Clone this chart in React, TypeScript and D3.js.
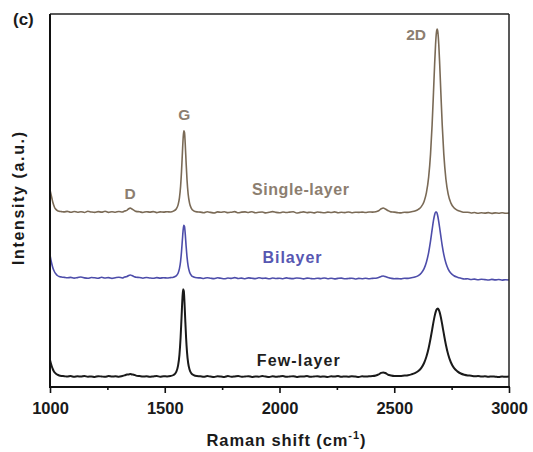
import React, { useEffect, useRef } from 'react';
import * as d3 from 'd3';

// Raman shift grid (cm^-1)
const shifts = [
  1000, 1004, 1008, 1012, 1016, 1020, 1026, 1032, 1040, 1050, 1062, 1075,
  1090, 1105, 1120, 1135, 1150, 1165, 1180, 1195, 1210, 1225, 1240, 1255, 1270, 1285, 1300, 1315,
  1325, 1335, 1343, 1350, 1357, 1365, 1375, 1390,
  1405, 1420, 1435, 1450, 1465, 1480, 1495, 1510, 1525,
  1538, 1550, 1558, 1564, 1569, 1573, 1577, 1580, 1583, 1586, 1589, 1593, 1597, 1602, 1608, 1616, 1626, 1640,
  1655, 1670, 1685, 1700, 1715, 1730, 1745, 1760, 1775, 1790,
  1805, 1820, 1835, 1850, 1865, 1880, 1895, 1910, 1925, 1940,
  1955, 1970, 1985, 2000, 2015, 2030, 2045, 2060, 2075, 2090,
  2105, 2120, 2135, 2150, 2165, 2180, 2195, 2210, 2225, 2240,
  2255, 2270, 2285, 2300, 2315, 2330, 2345, 2360, 2375, 2390,
  2405, 2420, 2432, 2443, 2452, 2461, 2472, 2485, 2500,
  2515, 2530, 2545, 2560, 2575,
  2590, 2605, 2618, 2630, 2640, 2650, 2658, 2665, 2671, 2676, 2680, 2684,
  2687, 2690, 2694, 2698, 2703, 2709, 2716, 2725, 2735, 2747, 2760, 2775,
  2790, 2805, 2820, 2835, 2850, 2865, 2880, 2895, 2910, 2925, 2940, 2955, 2970, 2985, 3000,
];

// Single-layer intensity (a.u., offset)
const singleLayer = [
  197, 193, 189, 185, 182, 179.5, 177.6, 176.4, 175.7, 175.4, 175.1, 175.6,
  174.7, 175.5, 174.8, 175.3, 174.5, 175.7, 175.0, 174.6, 175.4, 174.9, 175.8, 174.6, 175.2, 174.8, 175.5, 175.0,
  175.9, 176.6, 178.3, 178.9, 178.0, 176.9, 175.6, 175.2,
  174.5, 175.3, 174.9, 175.4, 174.4, 175.1, 174.9, 175.3, 175.0,
  175.9, 178.0, 182.1, 189.1, 200.6, 215.4, 234.6, 248.3, 256.1, 254.5, 244.2, 224.7, 207.3, 192.9, 183.9, 178.7, 176.2, 175.1,
  174.9, 174.3, 175.2, 174.6, 174.0, 175.1, 174.7, 175.3, 174.4, 174.8,
  175.4, 174.2, 174.9, 175.1, 174.5, 175.3, 174.3, 174.8, 175.0, 174.1,
  174.7, 175.4, 174.6, 174.2, 175.0, 174.5, 174.9, 175.2, 174.0, 174.6,
  175.1, 174.4, 174.8, 174.1, 175.0, 174.6, 174.3, 174.9, 174.5, 175.1,
  174.2, 174.7, 174.4, 175.0, 174.3, 174.8, 174.6, 174.9, 174.5, 175.0,
  174.9, 175.3, 176.3, 178.2, 179.0, 178.0, 176.5, 175.1, 174.9,
  174.4, 174.1, 174.7, 174.6, 175.3,
  176.0, 177.6, 180.4, 185.6, 194.1, 210.1, 232.6, 262.2, 294.7, 323.0, 342.5, 355.0,
  358.0, 355.0, 342.5, 323.0, 294.7, 262.2, 232.6, 208.0, 192.9, 183.9, 179.2, 176.7,
  175.5, 174.7, 174.8, 174.0, 174.5, 173.7, 174.2, 173.9, 174.4, 173.6, 174.1, 173.8, 174.3, 173.7, 174.0,
];

// Bilayer intensity
const bilayer = [
  132, 127, 123, 119.5, 117, 115, 113, 111.5, 110.5, 110.0, 109.6, 109.2,
  109.6, 108.9, 109.4, 110.0, 109.1, 108.7, 109.5, 109.2, 108.8, 109.7, 109.0, 109.4, 108.6, 109.3, 109.8, 109.0,
  109.9, 110.4, 111.6, 112.0, 111.4, 110.6, 109.7, 109.5,
  108.8, 109.5, 109.0, 108.7, 109.4, 108.9, 109.3, 109.0, 109.4,
  109.8, 111.1, 113.8, 118.3, 125.7, 135.3, 147.7, 156.6, 161.6, 160.6, 153.9, 141.3, 130.1, 120.8, 114.9, 111.6, 110.0, 109.2,
  109.1, 108.5, 109.3, 108.8, 108.4, 109.2, 108.7, 108.2, 109.0, 108.6,
  109.4, 108.5, 108.9, 108.3, 109.1, 108.7, 108.4, 109.2, 108.6, 108.9,
  108.2, 109.0, 108.5, 108.8, 108.3, 109.1, 108.6, 108.4, 109.0, 108.7,
  108.1, 108.9, 108.5, 108.2, 108.8, 108.4, 109.0, 108.3, 108.7, 108.1,
  108.6, 108.9, 108.2, 108.5, 108.8, 108.0, 108.6, 108.3, 108.7, 108.2,
  108.6, 108.8, 109.5, 110.5, 111.0, 110.4, 109.4, 108.8, 108.3,
  108.4, 108.1, 108.7, 108.6, 109.3,
  109.9, 111.4, 114.0, 118.3, 124.7, 134.7, 145.9, 157.3, 166.6, 172.2, 175.0, 175.0,
  173.4, 170.5, 165.2, 159.0, 150.8, 141.4, 132.4, 123.9, 117.9, 113.7, 111.3, 109.8,
  108.8, 108.0, 108.2, 107.5, 107.9, 107.2, 107.7, 107.4, 107.0, 107.6, 107.1, 107.5, 106.9, 107.3, 107.0,
];

// Few-layer intensity
const fewLayer = [
  27, 23.5, 20.5, 18, 16, 14.6, 13.3, 12.3, 11.5, 11.0, 10.8, 10.4,
  10.9, 10.2, 10.7, 10.4, 11.0, 10.3, 10.6, 10.1, 10.8, 10.5, 10.2, 10.9, 10.4, 10.7, 10.3, 11.0,
  11.6, 12.4, 12.6, 12.9, 12.5, 12.3, 11.4, 10.9,
  10.4, 10.8, 10.2, 10.6, 10.9, 10.3, 10.7, 10.6, 11.0,
  12.0, 15.1, 21.3, 32.2, 49.2, 68.8, 88.5, 97.8, 96.0, 84.6, 68.8, 49.2, 34.9, 24.0, 17.4, 13.6, 11.8, 10.9,
  10.7, 10.2, 10.9, 10.4, 10.0, 10.8, 10.5, 10.1, 10.9, 10.3,
  10.6, 11.0, 10.2, 10.5, 10.8, 10.1, 10.6, 10.3, 10.9, 10.4,
  10.0, 10.7, 10.3, 10.6, 10.9, 10.2, 10.5, 10.8, 10.1, 10.6,
  10.4, 10.9, 10.2, 10.5, 10.8, 10.3, 10.6, 10.0, 10.7, 10.4,
  10.9, 10.2, 10.6, 10.3, 10.8, 10.5, 10.1, 10.7, 10.4, 10.8,
  10.9, 11.5, 12.6, 14.1, 14.6, 14.0, 12.4, 11.6, 11.0,
  10.9, 11.1, 11.4, 11.8, 12.6,
  13.8, 15.9, 19.1, 24.0, 30.2, 39.0, 48.2, 57.2, 65.1, 70.9, 74.6, 77.2,
  78.2, 78.4, 77.2, 74.6, 69.8, 62.5, 53.3, 42.3, 32.5, 24.5, 19.1, 15.6,
  13.5, 12.3, 11.6, 11.3, 10.8, 10.9, 10.5, 10.7, 10.2, 10.6, 10.3, 10.0, 10.5, 10.2, 10.4,
];

const seriesNames = ['Single-layer', 'Bilayer', 'Few-layer'];
const peakNames = ['D', 'G', '2D'];
const xTicksMajor = [1000, 1500, 2000, 2500, 3000];
const xTicksMinor = [1250, 1750, 2250, 2750];

const W = 533;
const H = 452;
const M = { left: 50, right: 24, top: 14, bottom: 65 };
const FONT = "'Liberation Sans', Arial, Helvetica, sans-serif";

export default function App() {
  const majorRef = useRef<SVGGElement>(null);
  const minorRef = useRef<SVGGElement>(null);

  const x = d3.scaleLinear().domain([1000, 3000]).range([M.left, W - M.right]);
  const y = d3.scaleLinear().domain([0, 373]).range([H - M.bottom, M.top]);

  const series = [singleLayer, bilayer, fewLayer];
  const lineColors = ['#7a6a56', '#4d4daa', '#1a1a1a'];
  const textColors = ['#8c7e70', '#5757b2', '#1e1e1e'];
  const lineWidths = [1.6, 1.6, 2.0];
  // label layout (start x in cm^-1, level in a.u., text length px)
  const labelShift = [1880, 1926, 1901];
  const labelLevel = [192, 124, 21.3];
  const labelLen = [97, 59, 83];
  const peakShift = [1349, 1585, 2595];
  const peakLevel = [188, 267, 347];
  const peakColor = '#8c7e70';

  const line = d3
    .line<number>()
    .x((_, i) => x(shifts[i]))
    .y((v) => y(v))
    .curve(d3.curveMonotoneX);

  useEffect(() => {
    const g = d3.select(majorRef.current!);
    g.selectAll('*').remove();
    g.call(
      d3
        .axisBottom(x)
        .tickValues(xTicksMajor)
        .tickSize(6)
        .tickPadding(9)
        .tickFormat(d3.format('d'))
    );
    g.select('.domain').remove();
    g.selectAll('.tick line').attr('stroke', '#111').attr('stroke-width', 1.6);
    g.selectAll('.tick text')
      .attr('font-size', 16.5)
      .attr('font-weight', 'bold')
      .attr('font-family', FONT)
      .attr('fill', '#1a1a1a');

    const m = d3.select(minorRef.current!);
    m.selectAll('*').remove();
    m.call(d3.axisBottom(x).tickValues(xTicksMinor).tickSize(3).tickFormat(() => ''));
    m.select('.domain').remove();
    m.selectAll('.tick line').attr('stroke', '#111').attr('stroke-width', 1.6);
  }, []);

  const x0 = M.left;
  const x1 = W - M.right;
  const y0 = H - M.bottom;
  const y1 = M.top;

  return (
    <svg
      width={W}
      height={H}
      style={{ position: 'absolute', left: 0, top: 0, display: 'block', background: '#fff' }}
      fontFamily={FONT}
    >
      <rect x={0} y={0} width={W} height={H} fill="#fff" />
      {series.map((s, k) => (
        <path
          key={k}
          d={line(s) || ''}
          fill="none"
          stroke={lineColors[k]}
          strokeWidth={lineWidths[k]}
          strokeLinejoin="round"
        />
      ))}
      {/* frame */}
      <line x1={x0} x2={x1} y1={y1} y2={y1} stroke="#222" strokeWidth={1.5} />
      <line x1={x1} x2={x1} y1={y1} y2={y0} stroke="#222" strokeWidth={1.5} />
      <line x1={x0} x2={x0} y1={y1} y2={y0 + 1} stroke="#111" strokeWidth={2} />
      <line x1={x0 - 1} x2={x1 + 1} y1={y0} y2={y0} stroke="#111" strokeWidth={2} />
      <g ref={majorRef} transform={`translate(0,${y0})`} />
      <g ref={minorRef} transform={`translate(0,${y0})`} />

      {/* series labels */}
      {seriesNames.map((n, k) => (
        <text
          key={n}
          x={x(labelShift[k])}
          y={y(labelLevel[k])}
          fill={textColors[k]}
          fontSize={16}
          fontWeight="bold"
          textLength={labelLen[k]}
          lengthAdjust="spacing"
        >
          {n}
        </text>
      ))}

      {/* peak labels */}
      {peakNames.map((n, k) => (
        <text
          key={n}
          x={x(peakShift[k])}
          y={y(peakLevel[k])}
          fill={peakColor}
          fontSize={15.5}
          fontWeight="bold"
          textAnchor="middle"
        >
          {n}
        </text>
      ))}

      <text x={13} y={25} fontSize={17} fontWeight="bold" fill="#1a1a1a">
        (c)
      </text>

      <text
        transform="translate(24,198.5) rotate(-90)"
        textAnchor="middle"
        fontSize={16}
        fontWeight="bold"
        fill="#1a1a1a"
        textLength={133}
        lengthAdjust="spacing"
      >
        Intensity (a.u.)
      </text>

      <text x={206.5} y={445.7} fontSize={16.5} fontWeight="bold" fill="#1a1a1a" letterSpacing={0.9}>
        Raman shift (cm
        <tspan fontSize={11} dy={-7}>-1</tspan>
        <tspan dy={7}>)</tspan>
      </text>
    </svg>
  );
}
